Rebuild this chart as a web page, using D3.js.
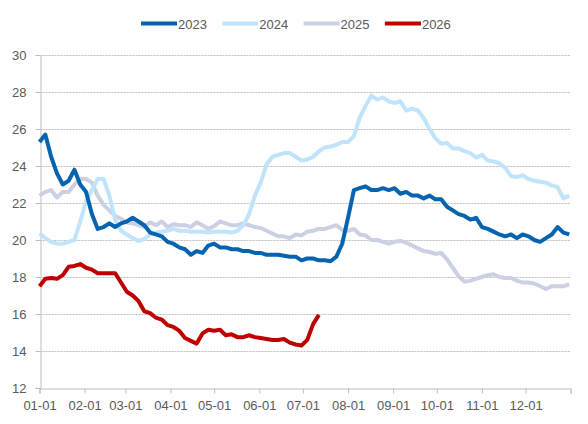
<!DOCTYPE html>
<html>
<head>
<meta charset="utf-8">
<script src="https://cdn.jsdelivr.net/npm/d3@7"></script>
<style>
  html, body { margin: 0; padding: 0; background: #fff; }
  svg { display: block; }
  text { font-family: "Liberation Sans", Arial, sans-serif; fill: #595959; }
</style>
</head>
<body>
<script>
// ---- data (values sampled every 4 days, starting Jan 1) ----
const stepDays = 4;
const seriesNames = ["2023", "2024", "2025", "2026"];
const v2023 = [25.3,25.7,24.5,23.6,23.0,23.2,23.8,23.0,22.6,21.4,20.6,20.7,20.9,20.7,20.9,21.0,21.2,21.0,20.8,20.4,
  20.3,20.2,19.9,19.8,19.6,19.5,19.2,19.4,19.3,19.7,19.8,19.6,19.6,19.5,19.5,19.4,19.4,19.3,19.3,19.2,
  19.2,19.2,19.15,19.1,19.1,18.9,19.0,19.0,18.9,18.9,18.85,19.1,19.8,21.2,22.7,22.8,22.9,22.7,22.7,22.8,
  22.7,22.8,22.5,22.6,22.4,22.4,22.25,22.4,22.2,22.2,21.8,21.6,21.4,21.3,21.1,21.2,20.7,20.6,20.45,20.3,
  20.2,20.3,20.1,20.3,20.2,20.0,19.9,20.1,20.3,20.7,20.4,20.3];
const v2024 = [20.35,20.1,19.9,19.8,19.8,19.9,20.0,21.0,22.1,22.7,23.3,23.3,22.4,21.1,20.5,20.3,20.1,19.95,20.05,20.3,
  20.4,20.45,20.5,20.6,20.5,20.5,20.45,20.45,20.45,20.4,20.45,20.45,20.45,20.4,20.5,20.8,21.4,22.4,23.1,24.1,
  24.5,24.6,24.7,24.7,24.5,24.3,24.35,24.5,24.8,25.0,25.05,25.15,25.3,25.3,25.6,26.6,27.25,27.8,27.6,27.7,
  27.5,27.4,27.5,27.0,27.1,27.0,26.6,26.0,25.5,25.2,25.25,24.95,24.95,24.8,24.7,24.45,24.6,24.3,24.25,24.15,
  23.9,23.45,23.4,23.5,23.3,23.2,23.15,23.1,22.95,22.85,22.25,22.4];
const v2025 = [22.4,22.6,22.7,22.3,22.6,22.6,23.0,23.3,23.3,23.1,22.4,21.9,21.6,21.3,21.15,20.95,20.9,20.8,20.7,20.95,
  20.8,21.0,20.7,20.85,20.8,20.8,20.7,20.95,20.8,20.6,20.75,21.0,20.9,20.8,20.8,20.9,20.8,20.7,20.65,20.5,
  20.35,20.2,20.2,20.1,20.3,20.25,20.45,20.5,20.6,20.6,20.7,20.8,20.55,20.5,20.6,20.3,20.25,20.0,20.0,19.9,
  19.8,19.9,19.95,19.85,19.7,19.55,19.4,19.35,19.25,19.3,18.95,18.5,18.05,17.75,17.8,17.9,18.0,18.1,18.15,18.0,
  17.95,17.95,17.8,17.7,17.7,17.65,17.5,17.35,17.5,17.5,17.5,17.6];
const v2026 = [17.5,17.9,17.95,17.9,18.1,18.55,18.6,18.7,18.5,18.4,18.2,18.2,18.2,18.2,17.7,17.2,17.0,16.7,16.15,16.05,
  15.8,15.7,15.4,15.3,15.1,14.7,14.55,14.4,14.95,15.15,15.1,15.15,14.85,14.9,14.75,14.75,14.85,14.75,14.7,14.65,
  14.6,14.6,14.65,14.45,14.35,14.3,14.6,15.45,15.95];
const monthStartDays = [0,31,59,90,120,151,181,212,243,273,304,334,365];
const monthLabels = ["01-01","02-01","03-01","04-01","05-01","06-01","07-01","08-01","09-01","10-01","11-01","12-01"];
const yTicks = [12,14,16,18,20,22,24,26,28,30];
const seriesColors = ["#0563b0", "#bfe4fb", "#ccd0e3", "#c00000"];

// ---- chart ----
const W = 588, H = 424;
const svg = d3.select("body").append("svg").attr("width", W).attr("height", H);

const x = d3.scaleLinear().domain([0, 365]).range([39.5, 570.7]);
const y = d3.scaleLinear().domain([12, 30]).range([388, 55]);

// gridlines
svg.append("g").selectAll("line").data(yTicks.filter(t => t !== 12)).join("line")
  .attr("x1", x(0)).attr("x2", x(365))
  .attr("y1", d => Math.round(y(d)) + 0.5).attr("y2", d => Math.round(y(d)) + 0.5)
  .attr("stroke", "#bdbdbd").attr("stroke-width", 1).attr("stroke-dasharray", "2,1");

// y axis
const yAxis = d3.axisLeft(y).tickValues(yTicks).tickSize(5).tickPadding(9).tickFormat(d3.format("d"));
const gy = svg.append("g").attr("transform", `translate(${Math.round(x(0)) + 0.5},0)`).call(yAxis);
gy.select(".domain").attr("stroke", "#bfbfbf");
gy.selectAll(".tick line").attr("stroke", "#bfbfbf");
gy.selectAll(".tick text").attr("font-size", 13).attr("fill", "#595959")
  .attr("font-family", "Liberation Sans, Arial, sans-serif");

// x axis
const xAxis = d3.axisBottom(x).tickValues(monthStartDays).tickSize(5).tickPadding(7)
  .tickFormat((d, i) => monthLabels[i] || "");
const gx = svg.append("g").attr("transform", `translate(0,${Math.round(y(12)) + 0.5})`).call(xAxis);
gx.select(".domain").attr("stroke", "#bfbfbf");
gx.selectAll(".tick line").attr("stroke", "#bfbfbf");
gx.selectAll(".tick text").attr("font-size", 13).attr("fill", "#595959")
  .attr("font-family", "Liberation Sans, Arial, sans-serif");

// lines
const allSeries = [v2023, v2024, v2025, v2026];
const line = d3.line().x((d, i) => x(i * stepDays)).y(d => y(d)).curve(d3.curveLinear);
const drawOrder = [2, 1, 0, 3];
svg.append("g").selectAll("path").data(drawOrder).join("path")
  .attr("d", i => line(allSeries[i]))
  .attr("fill", "none")
  .attr("stroke", i => seriesColors[i])
  .attr("stroke-width", 4)
  .attr("stroke-linejoin", "round")
  .attr("stroke-linecap", "butt");

// legend
const legend = svg.append("g");
const lg = legend.selectAll("g").data(seriesNames).join("g")
  .attr("transform", (d, i) => `translate(${141 + i * 81.3},0)`);
lg.append("line").attr("x1", 0).attr("x2", 36).attr("y1", 23.5).attr("y2", 23.5)
  .attr("stroke", (d, i) => seriesColors[i]).attr("stroke-width", 4);
lg.append("text").attr("x", 37).attr("y", 28.5).attr("font-size", 13).text(d => d);
</script>
</body>
</html>
